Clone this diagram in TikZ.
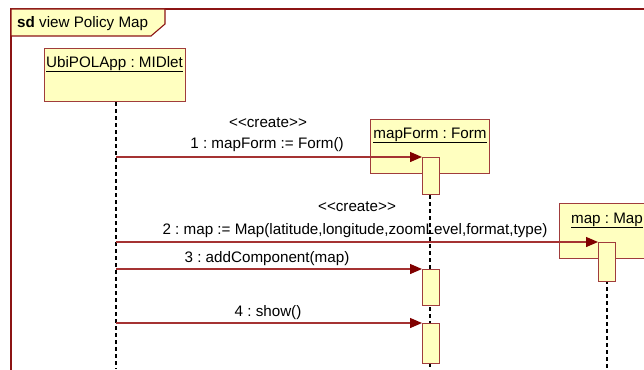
\documentclass[tikz,border=0pt]{standalone}
\usepackage{fontspec}
\setmainfont{Liberation Sans}[Ligatures=NoCommon]
\frenchspacing
\usetikzlibrary{arrows.meta}
\definecolor{boxfill}{RGB}{255,255,192}
\definecolor{boxline}{RGB}{160,60,60}
\definecolor{frameline}{RGB}{140,20,20}
\definecolor{msgline}{RGB}{165,50,50}
\definecolor{tipcol}{RGB}{128,0,0}
\newcommand{\crt}{<\kern0pt<\kern0pt create\kern0pt>\kern0pt>}
\tikzset{
  objbox/.style={draw=boxline, fill=boxfill, line width=1.1pt, anchor=north west, inner sep=0pt},
  actbar/.style={draw=boxline, fill=boxfill, line width=1.1pt, anchor=north west, minimum width=17pt, inner sep=0pt},
  life/.style={black, line width=1.2pt, dash pattern=on 4pt off 3pt},
  msg/.style={draw=msgline, line width=1.3pt, -{Triangle[length=12pt,width=10pt,fill=tipcol,color=tipcol]}},
  lbl/.style={font=\fontsize{15.2}{16}\selectfont\frenchspacing, anchor=base, inner sep=0pt},
}
\begin{document}
\begin{tikzpicture}[x=1pt,y=-1pt]
\useasboundingbox (0,0) rectangle (644,369);
\clip (0,0) rectangle (644,369);
\fill[white] (0,0) rectangle (644,369);
% frame
\draw[frameline, line width=1.1pt] (11,9) rectangle (700,420);
\draw[frameline, line width=1.1pt, fill=boxfill] (11,9) -- (165,9) -- (165,24) -- (151,36) -- (11,36) -- cycle;
\node[lbl, anchor=base west] (title) at (17,28) {\textbf{sd} view Policy Map};
% objects
\node[objbox, minimum width=141pt, minimum height=53pt] (app) at (44,48) {};
\node[lbl] (apptxt) at (114.5,67) {\underline{UbiPOLApp : MIDlet}};
\node[objbox, minimum width=119pt, minimum height=54pt] (form) at (370,119) {};
\node[lbl] (formtxt) at (430,138) {\underline{mapForm : Form}};
% lifelines
\coordinate (appbot) at (116,369);
\draw[life] (app.south -| appbot) -- (appbot);
\coordinate (formbot) at (430,369);
\draw[life] (form.south -| formbot) -- (formbot);
\coordinate (mapbot) at (607,369);
% map object
\node[objbox, minimum width=96pt, minimum height=55pt] (map) at (559,203) {};
\node[lbl] (maptxt) at (607,223) {\underline{map : Map}};
\draw[life] (map.south -| mapbot) -- (mapbot);
% activations
\node[actbar, minimum height=37pt] (a1) at (422,157) {};
\node[actbar, minimum height=39pt] (am) at (598,242) {};
\node[actbar, minimum height=36pt] (a2) at (422,269) {};
\node[actbar, minimum height=40pt] (a3) at (422,323) {};
% messages
\draw[msg] (appbot |- a1.north west) -- (a1.north west);
\draw[msg] (appbot |- am.north west) -- (am.north west);
\draw[msg] (appbot |- a2.north west) -- (a2.north west);
\draw[msg] (appbot |- a3.north west) -- (a3.north west);
% labels
\node[lbl] (c1) at (268,127) {\crt};
\node[lbl] (m1) at (267,148) {1 : mapForm := Form()};
\node[lbl] (c2) at (357,211) {\crt};
\node[lbl] (m2) at (355,234) {2 : map := Map(latitude,longitude,zoomLevel,format,type)};
\node[lbl] (m3) at (267,262) {3 : addComponent(map)};
\node[lbl] (m4) at (268,316) {4 : show()};
\end{tikzpicture}
\end{document}
